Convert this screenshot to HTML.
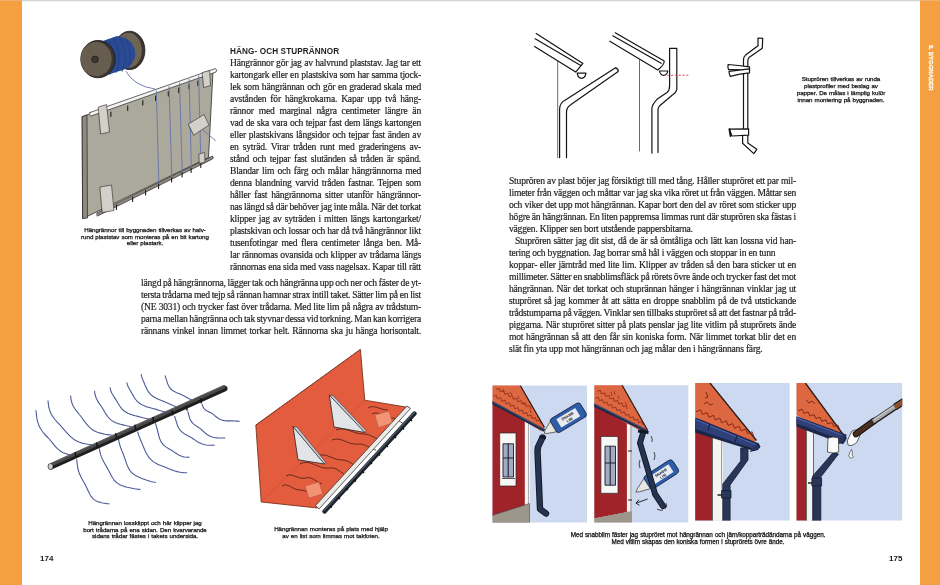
<!DOCTYPE html>
<html><head><meta charset="utf-8">
<style>
html,body{margin:0;padding:0;background:#fff;}
body{width:940px;height:585px;position:relative;overflow:hidden;}
.t,.cap,.h,.pn{will-change:transform;}
.t{position:absolute;font-family:"Liberation Serif",serif;font-size:9.6px;line-height:12px;height:12px;color:#1e1e1e;letter-spacing:-0.22px;-webkit-text-stroke:0.18px #1e1e1e;white-space:nowrap;}
.j{text-align:justify;text-align-last:justify;}
.cap{position:absolute;font-family:"Liberation Sans",sans-serif;font-size:6.2px;line-height:6.6px;color:#111;-webkit-text-stroke:0.25px #111;word-spacing:0.4px;letter-spacing:-0.05px;text-align:center;white-space:nowrap;}
.h{position:absolute;font-family:"Liberation Sans",sans-serif;font-weight:bold;font-size:8.2px;line-height:10px;color:#1e1e1e;letter-spacing:0.1px;white-space:nowrap;}
.pn{position:absolute;font-family:"Liberation Sans",sans-serif;font-weight:bold;font-size:8px;line-height:10px;color:#1a1a1a;white-space:nowrap;}
svg{position:absolute;left:0;top:0;}
</style></head><body>
<div style="position:absolute;left:22px;top:0;width:898px;height:1px;background:#d6d6d6"></div>
<div style="position:absolute;left:22px;top:1px;width:898px;height:1px;background:#f0f0f0"></div>
<div style="position:absolute;left:0;top:0;width:22px;height:585px;background:#f4a040"></div>
<div style="position:absolute;left:920px;top:0;width:20px;height:585px;background:#f4a040"></div>
<div style="position:absolute;left:0;top:0;width:22px;height:1px;background:#eeb070"></div>
<div style="position:absolute;left:920px;top:0;width:20px;height:1px;background:#eeb070"></div>
<div class="h" style="left:230px;top:47px;">HÄNG- OCH STUPRÄNNOR</div>
<svg width="940" height="585" viewBox="0 0 940 585">
<!-- board -->
<g stroke-linejoin="round" stroke-linecap="round">
<polygon points="82.5,116.5 213,71 208.5,157.5 83,218.5" fill="#aba89c" stroke="#2a2a2a" stroke-width="0.8"/>
<polygon points="82.5,116.5 87,115 87.5,218 83,218.5" fill="#8f897e" stroke="#2a2a2a" stroke-width="0.7"/>
<!-- top rod -->
<path d="M90,112.5 L215.5,68.5 Q217.5,70 216,72 L91,116 Q88,115 90,112.5Z" fill="#f4f4f2" stroke="#2a2a2a" stroke-width="0.7"/>
<!-- bottom rod -->
<path d="M97,213 L212.5,156 Q214,158 212.5,159 L97.5,216Z" fill="#8e8a82" stroke="#2a2a2a" stroke-width="0.7"/>
<!-- ticks top -->
<g stroke="#1e1e1e" stroke-width="1.1">
<path d="M110.9,112 v4.5 M127.7,106 v4.5 M142.8,100.5 v4.5 M155.6,96 v4.5 M168.3,91.5 v4.5 M178.7,88 v4.5 M189,84.3 v4.5 M197.9,81 v4.5"/>
<path d="M116.4,205 v4.5 M132.6,197 v4.5 M145.6,190.5 v4.5 M158.6,184 v4.5 M171.6,177.5 v4.5 M182.1,172.5 v4.5 M191.1,168 v4.5 M200.8,163 v4.5"/>
</g>
<!-- vertical threads -->
<g stroke="#6573ad" stroke-width="0.9" fill="none">
<path d="M156.4,91 L158.8,183"/><path d="M169.1,86.5 L171.8,177"/><path d="M179.5,83 L182.2,171.5"/><path d="M189.1,79.5 L191.3,167"/><path d="M198.7,76 L200.8,162"/>
<path d="M126,71.5 Q134,86 154.8,89"/>
<path d="M203,130 L215.4,140.6"/>
</g>
<!-- tapes -->
<polygon points="98.5,107 106.5,104.5 109.5,132 101,134" fill="#d3d0c9" stroke="#2a2a2a" stroke-width="0.6"/>
<polygon points="202.5,72.5 209.5,70.5 210.5,85.5 204,87.5" fill="#d3d0c9" stroke="#2a2a2a" stroke-width="0.6"/>
<polygon points="188.5,124 204,114.5 209,125 194,135" fill="#d3d0c9" stroke="#2a2a2a" stroke-width="0.6"/>
<polygon points="100.2,187 111.5,185 114,210.5 102.5,212.5" fill="#d3d0c9" stroke="#2a2a2a" stroke-width="0.6"/>
<polygon points="199.2,154 204.5,152.5 205,162 199.5,163.5" fill="#d3d0c9" stroke="#2a2a2a" stroke-width="0.6"/>
</g>
<!-- spool -->
<g stroke="#1a1a1a" stroke-linejoin="round">
<ellipse cx="129.6" cy="50.4" rx="15.3" ry="19.2" fill="#3a3530" stroke-width="0.8"/>
<ellipse cx="128.4" cy="50.4" rx="13.4" ry="17.6" fill="#6e6454" stroke-width="0"/>
<path d="M100,42 L117,36 Q134,38 135.5,54 Q134,68 118,71.5 L104,76Z" fill="#2b4a94" stroke-width="0"/>
<g stroke="#20397a" stroke-width="0.6" fill="none"><path d="M108,39 Q118,55 110,75"/><path d="M113,37.5 Q124,55 116,73"/><path d="M119,36.5 Q130,54 122,72"/><path d="M125,37 Q134,54 128,70"/></g>
<ellipse cx="98" cy="59.1" rx="17.2" ry="18.7" fill="#3a3530" stroke-width="0.8"/>
<ellipse cx="96.2" cy="59.1" rx="15.5" ry="17.2" fill="#675d4e" stroke-width="0"/>
<circle cx="95" cy="59.4" r="3.3" fill="#3c3731" stroke-width="0.7"/>
</g>

<!-- rod with threads (bottom-left) -->
<g fill="none" stroke="#4c5a98" stroke-width="1.1" stroke-linecap="round" stroke-linejoin="round">
<path d="M36.0,410.5 L36.3,413.3 L36.6,416.1 L37.0,418.9 L37.6,421.6 L38.5,424.4 L39.6,427.0 L41.1,429.5 L42.7,431.8 L44.5,434.0 L46.4,436.0 L48.3,438.0 L50.1,440.0 L51.8,442.1 L53.4,444.1 L55.1,446.2 L56.9,448.2 L58.9,449.9 L61.0,451.5 L63.2,452.7 L65.6,453.6 L68.1,454.2 L70.6,454.5 L73.0,454.7 L75.5,454.7"/>
<path d="M48.0,400.9 L48.3,403.7 L48.7,406.5 L49.4,409.3 L50.3,412.0 L51.6,414.7 L53.2,417.2 L55.0,419.5 L56.9,421.8 L59.0,423.9 L61.0,426.1 L63.0,428.3 L64.9,430.6 L66.9,432.8 L69.0,435.1 L71.2,437.2 L73.6,439.2 L76.2,440.8 L79.0,442.1 L81.9,443.1 L84.9,443.8 L87.9,444.3 L90.9,444.7 L94.0,444.9 L97.0,445.1"/>
<path d="M70.7,396.1 L70.9,398.6 L71.4,401.1 L72.1,403.6 L73.2,405.9 L74.5,408.2 L76.0,410.3 L77.7,412.4 L79.3,414.5 L81.0,416.5 L82.6,418.7 L84.2,420.9 L85.9,423.1 L87.7,425.3 L89.6,427.3 L91.8,429.2 L94.2,430.7 L96.8,432.0 L99.5,432.9 L102.2,433.6 L105.0,434.2 L107.7,434.6 L110.5,435.0 L113.3,435.4 L116.1,435.6"/>
<path d="M94.6,391.3 L94.8,393.6 L95.4,395.8 L96.2,398.0 L97.2,400.1 L98.4,402.1 L99.7,404.1 L101.0,406.0 L102.3,408.0 L103.6,410.1 L104.8,412.2 L106.2,414.4 L107.6,416.5 L109.3,418.4 L111.2,420.1 L113.4,421.6 L115.7,422.7 L118.1,423.6 L120.6,424.3 L123.0,424.9 L125.5,425.5 L127.9,426.0 L130.3,426.5 L132.8,426.9 L135.3,427.2"/>
<path d="M110.1,387.7 L110.5,389.7 L111.1,391.6 L112.0,393.5 L113.1,395.3 L114.2,397.1 L115.4,398.9 L116.6,400.8 L117.7,402.8 L119.0,404.8 L120.3,406.8 L121.9,408.8 L123.6,410.5 L125.7,412.1 L127.9,413.3 L130.3,414.3 L132.8,415.1 L135.3,415.8 L137.8,416.4 L140.3,417.0 L142.8,417.7 L145.3,418.3 L147.9,418.9 L150.5,419.3 L153.2,419.5"/>
<path d="M126.9,382.9 L127.4,384.7 L128.1,386.5 L129.0,388.3 L130.0,390.0 L131.0,391.8 L132.1,393.7 L133.2,395.6 L134.3,397.6 L135.7,399.5 L137.3,401.4 L139.2,403.0 L141.3,404.5 L143.6,405.6 L146.0,406.6 L148.5,407.3 L151.1,408.0 L153.7,408.7 L156.2,409.4 L158.8,410.2 L161.3,411.0 L164.0,411.8 L166.7,412.4 L169.5,412.7 L172.3,412.8"/>
<path d="M141.2,374.6 L141.7,376.7 L142.4,378.7 L143.2,380.7 L144.1,382.8 L144.9,384.9 L145.9,387.0 L146.9,389.2 L148.2,391.4 L149.7,393.4 L151.5,395.2 L153.6,396.8 L155.9,398.1 L158.3,399.3 L160.8,400.3 L163.3,401.3 L165.7,402.3 L168.2,403.3 L170.6,404.4 L173.1,405.5 L175.7,406.5 L178.3,407.3 L181.1,407.9 L183.9,408.1 L186.7,408.1"/>
<path d="M165.2,375.8 L165.6,377.3 L166.1,378.9 L166.6,380.4 L167.1,382.1 L167.7,383.8 L168.4,385.4 L169.3,387.1 L170.5,388.6 L171.9,390.0 L173.5,391.1 L175.3,392.1 L177.2,392.9 L179.1,393.6 L181.0,394.4 L182.8,395.2 L184.6,396.2 L186.4,397.2 L188.3,398.3 L190.2,399.2 L192.2,400.0 L194.4,400.6 L196.5,400.9 L198.8,401.0 L201.0,400.9"/>
<path d="M76.7,459.5 L77.0,462.5 L77.4,465.6 L77.9,468.5 L78.6,471.3 L79.6,474.1 L80.8,476.6 L82.1,479.1 L83.4,481.4 L84.7,483.7 L85.9,485.9 L87.0,488.2 L88.0,490.4 L89.0,492.6 L90.1,494.7 L91.3,496.7 L92.8,498.4 L94.5,499.9 L96.4,501.1 L98.5,501.9 L100.5,502.5 L102.6,503.0 L104.7,503.3 L106.8,503.6 L109.0,503.8"/>
<path d="M99.4,448.7 L99.8,451.5 L100.5,454.2 L101.4,456.9 L102.5,459.4 L103.7,461.8 L105.1,464.2 L106.4,466.4 L107.7,468.7 L108.9,470.9 L110.1,473.2 L111.2,475.5 L112.5,477.7 L114.0,479.8 L115.7,481.8 L117.7,483.4 L119.9,484.7 L122.2,485.8 L124.6,486.6 L127.1,487.2 L129.6,487.7 L132.1,488.2 L134.6,488.7 L137.3,489.1 L140.0,489.4"/>
<path d="M118.5,439.2 L119.0,442.1 L119.8,445.0 L120.7,447.7 L121.7,450.4 L122.8,453.0 L123.8,455.6 L124.7,458.1 L125.6,460.7 L126.4,463.2 L127.4,465.7 L128.5,468.1 L129.8,470.3 L131.4,472.3 L133.3,474.0 L135.4,475.4 L137.5,476.6 L139.7,477.6 L141.9,478.5 L144.1,479.3 L146.2,480.1 L148.4,480.8 L150.7,481.5 L153.1,482.0 L155.6,482.2"/>
<path d="M137.7,432.0 L138.5,434.7 L139.5,437.4 L140.6,440.0 L141.7,442.6 L142.7,445.1 L143.8,447.7 L144.9,450.3 L146.1,452.8 L147.5,455.3 L149.1,457.6 L151.0,459.7 L153.2,461.6 L155.6,463.1 L158.1,464.4 L160.7,465.6 L163.4,466.6 L166.0,467.6 L168.7,468.7 L171.4,469.7 L174.2,470.7 L177.1,471.6 L180.2,472.3 L183.4,472.6 L186.7,472.7"/>
<path d="M155.6,423.6 L156.2,425.8 L156.9,428.1 L157.5,430.3 L158.0,432.5 L158.6,434.7 L159.1,436.8 L159.8,439.0 L160.7,441.0 L161.8,442.9 L163.2,444.6 L164.8,446.1 L166.6,447.4 L168.4,448.5 L170.1,449.5 L171.9,450.5 L173.5,451.6 L175.1,452.7 L176.8,453.8 L178.5,454.9 L180.4,455.8 L182.4,456.6 L184.5,457.0 L186.7,457.2 L189.0,457.1"/>
<path d="M174.7,416.4 L175.3,418.3 L175.9,420.3 L176.5,422.2 L177.1,424.2 L177.8,426.2 L178.7,428.0 L179.9,429.8 L181.3,431.4 L182.9,432.7 L184.6,433.9 L186.5,435.0 L188.4,435.9 L190.2,436.9 L192.0,438.0 L193.7,439.2 L195.5,440.4 L197.4,441.7 L199.4,442.8 L201.6,443.8 L203.9,444.5 L206.4,445.0 L208.9,445.2 L211.5,445.2 L214.2,445.1"/>
<path d="M187.9,411.7 L188.3,413.5 L188.8,415.3 L189.3,417.2 L189.9,419.0 L190.8,420.7 L191.9,422.2 L193.2,423.6 L194.7,424.9 L196.3,426.0 L197.9,427.0 L199.5,428.1 L201.0,429.2 L202.4,430.5 L203.9,431.8 L205.4,433.2 L207.1,434.5 L208.9,435.7 L210.9,436.6 L213.0,437.3 L215.3,437.7 L217.6,437.9 L220.0,438.0 L222.5,438.0 L225.0,438.0"/>
<path d="M202.2,404.5 L202.6,405.7 L203.0,406.9 L203.7,408.1 L204.6,409.1 L205.6,410.1 L206.8,410.8 L208.2,411.5 L209.5,412.2 L210.9,412.8 L212.2,413.6 L213.5,414.6 L214.8,415.7 L216.2,416.8 L217.7,418.0 L219.4,419.0 L221.2,419.8 L223.1,420.4 L225.2,420.8 L227.4,420.9 L229.7,420.9 L232.0,420.9 L234.4,421.0 L236.8,421.1 L239.3,421.2"/>
</g>
<path d="M51,466.5 L224.5,388.5" stroke="#1e1e1e" stroke-width="6" stroke-linecap="round"/>
<path d="M51,465 L224,387" stroke="#4a4a4a" stroke-width="3.2" stroke-linecap="round"/>
<path d="M50.5,463.5 L223.5,385.5" stroke="#6a6a6a" stroke-width="1" stroke-linecap="round"/>
<ellipse cx="50.5" cy="466.5" rx="2.5" ry="3" fill="#cfcfcf" stroke="#1e1e1e" stroke-width="0.6"/>
<g stroke="#141414" stroke-width="1.4"><path d="M75.0,452.2 l1,5 M96.5,442.6 l1,5 M115.6,433.1 l1,5 M134.8,424.7 l1,5 M152.7,417.0 l1,5 M171.8,410.3 l1,5 M186.2,405.6 l1,5 M200.5,398.4 l1,5"/></g>

<!-- orange gutter (bottom-center) -->
<g stroke-linejoin="round">
<polygon points="255.8,425 360.4,349.4 364.8,400.2 409,407.5 317.5,508 261.2,502" fill="#e45c3e" stroke="#6a2412" stroke-width="0.8"/>
<path d="M261.2,502 L364.8,400.2" stroke="#c04a28" stroke-width="0.5"/>
<path d="M256,425 L360.4,349.4" stroke="#5a2010" stroke-width="1" stroke-dasharray="0.8 1.6"/>
<g fill="none" stroke="#3a1a10" stroke-width="0.75">
<path d="M282,486 C288,482 292,490 300,490 C306,490 310,494 316,494"/>
<path d="M286,476 C292,472 298,480 306,478 C312,476 316,482 322,484"/>
<path d="M300,464 C310,458 318,470 330,468 C336,467 340,472 344,474"/>
<path d="M318,456 C326,452 332,460 342,460 C348,460 352,464 356,466"/>
<path d="M332,440 C342,436 348,446 360,444 C366,444 372,450 376,450"/>
<path d="M336,430 C346,426 352,434 364,434 C370,434 374,438 380,440"/>
<path d="M372,414 C378,410 384,418 392,418 C396,418 400,422 404,424"/>
<path d="M368,408 C374,404 380,410 388,410"/>
</g>
<polygon points="305,486 319,482 322.6,494 309,498" fill="#f29474" stroke="#b5553a" stroke-width="0.5"/>
<polygon points="374.8,415 389,411 392.5,423 378.5,427.5" fill="#f29474" stroke="#b5553a" stroke-width="0.5"/>
<polygon points="293,426.5 324.6,464 298,459.8" fill="#e2e4e8" stroke="#222" stroke-width="0.8"/>
<polygon points="293,426.5 297,427 325.5,462 324.6,464" fill="#c8ccd2" stroke="#222" stroke-width="0.5"/>
<polygon points="329.3,395 365,432.5 334,427" fill="#e2e4e8" stroke="#222" stroke-width="0.8"/>
<polygon points="329.3,395 333,395.5 366,430.5 365,432.5" fill="#c8ccd2" stroke="#222" stroke-width="0.5"/>
<polygon points="315.5,505.5 407,406 410.5,408.5 319,509" fill="#ecebe8" stroke="#222" stroke-width="0.7"/>
<path d="M324.5,511.5 L414.5,413.5" stroke="#1e232c" stroke-width="4.4" stroke-linecap="round"/>
<path d="M324,510.5 L414,412.5" stroke="#4a5260" stroke-width="1.6" stroke-linecap="round"/>
<path d="M330,505.5 l2,2 M338,497 l2,2 M346,488 l2,2 M354,479.5 l2,2 M362,471 l2,2 M370,462 l2,2 M378,453.5 l2,2 M386,445 l2,2 M394,436 l2,2 M402,427.5 l2,2 M410,419 l2,2" stroke="#111" stroke-width="1.3"/>
</g>
</svg>
<svg width="940" height="585" viewBox="0 0 940 585">
<defs>
<clipPath id="c1"><rect x="492.5" y="385.5" width="94.5" height="137"/></clipPath>
<clipPath id="c2"><rect x="594.3" y="385.3" width="94" height="137.2"/></clipPath>
<clipPath id="c3"><rect x="695.2" y="383" width="94.5" height="137.5"/></clipPath>
<clipPath id="c4"><rect x="796.5" y="383" width="105.7" height="137.6"/></clipPath>
</defs>
<!-- top line drawings -->
<g fill="none" stroke="#141414" stroke-width="1.2" stroke-linecap="round" stroke-linejoin="round">
<!-- A -->
<path d="M536.2,33.6 L582.9,63.4 L575.7,72.1 L534.6,46.5"/>
<path d="M535.1,38.8 L580.8,65.5"/>
<path d="M577.2,73.2 H586 Q585,78.3 581.6,78.3 Q578,78.3 577.2,73.2Z"/>
<path d="M557.7,61.4 V157.7" stroke="#444" stroke-width="0.8"/>
<path d="M559.6,157.7 V109 Q559.6,103 565.4,100 L615.5,67.8 Q618.5,68.5 618.2,71.5 L571,104.6 Q566.5,107.5 566.5,112 V157.7"/>
<!-- B -->
<path d="M615.2,32.8 L664.2,60.9 Q664.5,65 657.7,69.9 L609.8,41.2"/>
<path d="M612.8,35.8 L661.2,63.3"/>
<path d="M659.5,71 H667.8 Q667,75.3 663.6,75.3 Q660.3,75.3 659.5,71Z"/>
<path d="M639.5,60.3 V151" stroke="#444" stroke-width="0.8"/>
<path d="M651.9,153.1 V108 Q652.6,104 657.3,99.1 L667,92.5 Q669.6,90.3 669.6,86 V48.3 H676.8 V89.6 Q676,93 672.4,95 L659.4,106 Q658,108 658,110 V152.5"/>
<!-- C -->
<path d="M758,38 V45.7 L745.6,55.1 Q743.5,57 743.5,59.4 V128.4 M742.6,135.8 V143.3 L753.8,153.6 L756.8,149.3 L747.8,142.9 V135.6 M747.8,128.8 V61 Q747.8,59 749,57.6 L762.3,48.2 L762.7,38.4 L758,38"/>
<path d="M728.1,64.5 Q738,65.2 749.5,66.8 V70.3 Q739,69.5 728.5,69.6 Q727.5,67 728.1,64.5Z" fill="#fff"/>
<path d="M729,71.3 Q739,70 749.5,68.8 V72.8 Q740,73.5 730.3,76.4 Q729,74 729,71.3Z" fill="#fff"/>
<path d="M729.4,129.2 L748.6,128.8 V135.2 L732,136 Z" fill="#fff"/>
<path d="M729.4,129.2 L730.5,136" stroke-width="1.8"/>
</g>
<path d="M667.2,75.3 H688.5" stroke="#d0405a" stroke-width="0.9" stroke-dasharray="2.2 1.6"/>

<!-- panel 1 -->
<g clip-path="url(#c1)" stroke-linejoin="round">
<rect x="492" y="385" width="96" height="138" fill="#cdd9f0"/>
<polygon points="490,401 526,421 526,515 490,516" fill="#a02329"/>
<polygon points="524.8,420 530,423 530,504 524.8,505" fill="#f4f4f0"/>
<path d="M528.5,423 V504" stroke="#777" stroke-width="0.6"/>
<polygon points="490,516 529.5,503.5 529.5,523 490,523" fill="#9d968a" stroke="#333" stroke-width="0.5"/>
<polygon points="490,385 520,385 544.5,427.5 541,431 490,401" fill="#dd6740"/>
<path d="M520,385 L544.5,427.5" stroke="#2a1a12" stroke-width="1.2"/>
<g stroke="#8a2a14" stroke-width="0.8" fill="none"><path d="M493.0,396.3 496.4,395.3 497.3,398.7 500.7,397.8 501.7,401.2 505.1,400.3 506.0,403.7 509.4,402.8 510.4,406.2 513.8,405.3 514.7,408.7 518.1,407.7 519.0,411.1 522.5,410.2 523.4,413.6 526.8,412.7 527.7,416.1 531.1,415.2 532.1,418.6 535.5,417.7 536.4,421.1 539.8,420.1 540.7,423.6"/><path d="M496.0,389.3 499.4,388.3 500.3,391.7 503.7,390.8 504.7,394.2 508.1,393.3 509.0,396.7 512.4,395.8 513.4,399.2 516.8,398.3 517.7,401.7 521.1,400.7 522.0,404.1 525.5,403.2 526.4,406.6 529.8,405.7 530.7,409.1"/><path d="M503,389 l1,3 M510,392 l2,3 M518,396 l1,3 M523,402 l2,3 M530,410 l1,3"/></g>
<path d="M490,401.5 L544.5,430.5" stroke="#1f2a44" stroke-width="3"/>
<path d="M490,400.5 L544,429.5" stroke="#3b4f86" stroke-width="1"/>
<rect x="499.7" y="433" width="16.3" height="53" fill="#f7f7f5" stroke="#2a2a2a" stroke-width="0.7"/>
<rect x="503" y="443.8" width="10.5" height="33.2" fill="#a2aac4" stroke="#1a1a2a" stroke-width="0.9"/>
<path d="M508.2,443.8 V477 M503,458 H513.5" stroke="#1f2330" stroke-width="1.1"/>
<path d="M502,478.5 H515" stroke="#555" stroke-width="1"/>
<path d="M542.5,437.5 L538,447 L537.5,451 L540,509 L546,513.5" fill="none" stroke="#121826" stroke-width="6.4" stroke-linejoin="round" stroke-linecap="round"/>
<path d="M542.5,437.5 L538,447 L537.5,451 L540,509 L546,513.5" fill="none" stroke="#263350" stroke-width="4.6" stroke-linejoin="round" stroke-linecap="round"/>
<path d="M539.5,436.5 L546,438" stroke="#121826" stroke-width="2.5"/>
<g transform="translate(567,418.5) rotate(-31)">
<rect x="-16" y="-8" width="35" height="16" rx="3.5" fill="#2f5ea8" stroke="#1a2a50" stroke-width="0.9"/>
<rect x="-9.5" y="-4.8" width="22" height="9.6" fill="#e8ecf2"/>
<text x="1.5" y="-0.4" font-family="Liberation Sans" font-weight="bold" font-size="3.8" text-anchor="middle" fill="#223">SNABB</text>
<text x="1.5" y="3.8" font-family="Liberation Sans" font-weight="bold" font-size="3.8" text-anchor="middle" fill="#223">LIM</text>
<polygon points="-16,-6 -25,-1.2 -27,1 -25,2.5 -16,6" fill="#e6e6e2" stroke="#2a2a2a" stroke-width="0.6"/>
</g>
</g>

<!-- panel 2 -->
<g clip-path="url(#c2)" stroke-linejoin="round">
<rect x="594" y="385" width="95" height="138" fill="#cdd9f0"/>
<polygon points="592,403 628,424 628,512 592,519" fill="#a02329"/>
<polygon points="626.9,423 632,426 632,511 626.9,512" fill="#f4f4f0"/>
<path d="M631,426 V511" stroke="#555" stroke-width="0.7"/>
<path d="M628,451 h4 M628,500 h4" stroke="#222" stroke-width="1"/>
<polygon points="592,519 632,511 632,523 592,523" fill="#9d968a"/>
<polygon points="592,385 622,385 647.5,430 644,433 592,404" fill="#dd6740"/>
<path d="M622,385 L647.5,430" stroke="#2a1a12" stroke-width="1.2"/>
<g stroke="#8a2a14" stroke-width="0.8" fill="none"><path d="M595.0,398.3 598.4,397.3 599.3,400.7 602.7,399.7 603.7,403.1 607.1,402.2 608.1,405.6 611.5,404.6 612.4,408.0 615.8,407.1 616.8,410.5 620.2,409.5 621.2,412.9 624.6,412.0 625.5,415.4 628.9,414.4 629.9,417.8 633.3,416.8 634.2,420.2 637.6,419.3 638.6,422.7 642.0,421.7 643.0,425.1"/><path d="M597.0,391.3 600.4,390.4 601.3,393.8 604.7,392.9 605.6,396.3 609.1,395.5 609.9,398.9 613.4,398.0 614.3,401.4 617.7,400.5 618.6,404.0 622.0,403.1 622.9,406.5 626.3,405.6 627.2,409.0"/><path d="M611,392 l1,4 M614,391 l1,4 M618,396 l1,3 M625,402 l2,3"/></g>
<path d="M592,404 L647.5,431.5" stroke="#1f2a44" stroke-width="3"/>
<path d="M592,403 L647,430.5" stroke="#3b4f86" stroke-width="1"/>
<rect x="600.9" y="436.5" width="17.1" height="56.8" fill="#f7f7f5" stroke="#2a2a2a" stroke-width="0.7"/>
<rect x="605" y="446.2" width="10.5" height="39" fill="#a2aac4" stroke="#1a1a2a" stroke-width="0.9"/>
<path d="M610.2,446.2 V485.2 M605,463 H615.5" stroke="#1f2330" stroke-width="1.1"/>
<g transform="translate(660.5,475) rotate(-33)">
<rect x="-16" y="-7.8" width="34" height="15.6" rx="3.5" fill="#2f5ea8" stroke="#1a2a50" stroke-width="0.9"/>
<rect x="-9.5" y="-4.6" width="22" height="9.2" fill="#e8ecf2"/>
<text x="1.5" y="-0.4" font-family="Liberation Sans" font-weight="bold" font-size="3.8" text-anchor="middle" fill="#223">SNABB</text>
<text x="1.5" y="3.8" font-family="Liberation Sans" font-weight="bold" font-size="3.8" text-anchor="middle" fill="#223">LIM</text>
<polygon points="-16,-6 -27,-1 -30,1 -27,2.5 -16,6" fill="#e6e6e2" stroke="#2a2a2a" stroke-width="0.6"/>
</g>
<path d="M643,433 L640,443 L651,480 L655,494 L663,506" fill="none" stroke="#121826" stroke-width="6" stroke-linejoin="round" stroke-linecap="round"/>
<path d="M643,433 L640,443 L651,480 L655,494 L663,506" fill="none" stroke="#263350" stroke-width="4.2" stroke-linejoin="round" stroke-linecap="round"/>
<path d="M638,431 L648.5,432.5" stroke="#121826" stroke-width="3"/>
<path d="M647.6,499 L636,503.2 M636,503.2 l3,-3.5 M636,503.2 l3.5,2" stroke="#1a1a1a" stroke-width="0.9" fill="none"/>
<g fill="none" stroke="#222" stroke-width="0.8">

<path d="M651,436 q2,3 1,6 M654,452 q2,4 0,8 M640,460 q-2,4 0,8 M666,503 q2,3 -1,6 M657,509 q3,2 6,1"/>
</g>
</g>

<!-- panel 3 -->
<g clip-path="url(#c3)" stroke-linejoin="round">
<rect x="695" y="383" width="95" height="138" fill="#cdd9f0"/>
<rect x="695" y="420" width="17.5" height="101" fill="#a02329"/>
<polygon points="712.3,425 723,430 723,521 712.3,521" fill="#f4f4f2"/>
<path d="M712.5,425 V521" stroke="#333" stroke-width="0.7"/>
<path d="M722,430 Q721,470 722,490" stroke="#555" stroke-width="0.6" fill="none"/>
<polygon points="693,383 710,383 756,440.5 752,444 693,416" fill="#dd6740"/>
<path d="M710,383 L756.5,440.5" stroke="#2a1a12" stroke-width="1.3"/>
<g stroke="#7a2210" stroke-width="0.9" fill="none"><path d="M696.0,411.7 700.6,409.9 702.4,414.4 707.0,412.6 708.9,417.2 713.5,415.3 715.3,419.9 719.9,418.1 721.7,422.7 726.3,420.8 728.2,425.4 732.8,423.6 734.6,428.2 739.2,426.3 741.1,430.9 745.6,429.1 747.5,433.7 752.1,431.8 753.9,436.4"/><path d="M706,392 l2,5 l-3,1 M704,404 l3,-2 l3,3 l3,-1"/></g>
<polygon points="693,416.5 759,443.5 760,447.5 754,451 693,432" fill="#1c2648"/>
<polygon points="693,418.5 758,445 753,448.5 693,428" fill="#2f3f78"/>
<path d="M693,418.5 L757,445" stroke="#4a62a8" stroke-width="1.2"/>
<path d="M757,443 L760,446.5 L758,449.5 L750,451.5" fill="#27345e" stroke="#111a30" stroke-width="0.8"/>
<path d="M710,424 l-2,6 M737,436 l-2,6" stroke="#111a30" stroke-width="1"/>
<path d="M740.7,447.9 H748 V460 L730.1,485 V521 H722.8 V484 L740.7,461 Z" fill="#283657" stroke="#141c34" stroke-width="0.8"/>
<rect x="721.5" y="490.5" width="9.5" height="7.5" fill="#283657" stroke="#141c34" stroke-width="0.8"/>
<path d="M717.5,495 h4" stroke="#222" stroke-width="1.5"/>
</g>

<!-- panel 4 -->
<g clip-path="url(#c4)" stroke-linejoin="round">
<rect x="796" y="383" width="107" height="138" fill="#cdd9f0"/>
<rect x="796" y="420" width="10.5" height="101" fill="#a02329"/>
<polygon points="806.2,425 813.5,428 813.5,521 806.2,521" fill="#f4f4f2"/>
<path d="M806.5,425 V521 M813.5,428 V480" stroke="#333" stroke-width="0.7" fill="none"/>
<polygon points="794,383 805.4,383 843.5,435 840,439 794,414" fill="#dd6740"/>
<path d="M805.4,383 L843.5,435" stroke="#2a1a12" stroke-width="1.3"/>
<g stroke="#7a2210" stroke-width="0.9" fill="none"><path d="M798.0,410.7 802.2,409.3 804.0,413.4 808.1,411.9 809.9,416.0 814.1,414.6 815.8,418.6 820.0,417.2 821.8,421.3 826.0,419.9 827.7,423.9 831.9,422.5 833.7,426.6 837.8,425.1 839.6,429.2"/><path d="M806,400 l3,3 l3,-2 l3,3"/></g>
<path d="M794,420.5 L845,439.5" stroke="#1c2648" stroke-width="10"/>
<path d="M794,419.5 L845,438.5" stroke="#2f3f78" stroke-width="5.5"/>
<path d="M794,417 L845,436" stroke="#4a62a8" stroke-width="1.3"/>
<path d="M843,434.5 L846.5,438 L844.3,442.2 L836,444" fill="#27345e" stroke="#111a30" stroke-width="0.8"/>
<path d="M833,452.7 L838.5,454 L820.8,477 V521 H812.7 V476 Z" fill="#283657" stroke="#141c34" stroke-width="0.8"/>
<rect x="811.9" y="478" width="9.7" height="8" fill="#283657" stroke="#141c34" stroke-width="0.8"/>
<path d="M808,483 h4" stroke="#222" stroke-width="1.5"/>
<path d="M828,438 Q833,436 838.5,438 L838.7,452 Q833,454 827.5,452 Z" fill="#fbfbfb" stroke="#222" stroke-width="0.7"/>
<path d="M852,431 Q858,428 861,433 L857,442 Q852,447 848,445 Q846,441 849,437 Z" fill="#fbfbfb" stroke="#222" stroke-width="0.7"/>
<path d="M852,455 Q853,451 851.5,449.5 Q849,453 848.8,456 Q850,459 852,458 Q855,457 852,455Z" fill="#fbfbfb" stroke="#222" stroke-width="0.6"/>
<path d="M856,434 L874,421" stroke="#1a1410" stroke-width="6.5" stroke-linecap="round"/>
<path d="M856,434 L874,421" stroke="#4a3020" stroke-width="4.5" stroke-linecap="round"/>
<path d="M873,422 L896,406.5" stroke="#1a1a1a" stroke-width="6" stroke-linecap="butt"/>
<path d="M873,421.5 L896,406" stroke="#a6a6a6" stroke-width="4"/>
<path d="M874,420 L895,405.5" stroke="#d0d0d0" stroke-width="1"/>
<path d="M895,407 L906,400" stroke="#1a1a1a" stroke-width="7"/>
<path d="M895,407 L906,400" stroke="#8a5030" stroke-width="5"/>
</g>
</svg>
<div class="t" style="top:57.0px;left:230px;word-spacing:0.268px">Hängrännor gör jag av halvrund plaststav. Jag tar ett</div>
<div class="t" style="top:69.0px;left:230px;word-spacing:0.230px">kartongark eller en plastskiva som har samma tjock-</div>
<div class="t" style="top:81.0px;left:230px;word-spacing:0.553px">lek som hängrännan och gör en graderad skala med</div>
<div class="t" style="top:93.0px;left:230px;word-spacing:1.810px">avstånden för hängkrokarna. Kapar upp två häng-</div>
<div class="t" style="top:105.0px;left:230px;word-spacing:2.737px">rännor med marginal några centimeter längre än</div>
<div class="t" style="top:117.0px;left:230px;word-spacing:0.417px">vad de ska vara och tejpar fast dem längs kartongen</div>
<div class="t" style="top:129.0px;left:230px;word-spacing:0.672px">eller plastskivans långsidor och tejpar fast änden av</div>
<div class="t" style="top:141.0px;left:230px;word-spacing:1.837px">en syträd. Virar tråden runt med graderingens av-</div>
<div class="t" style="top:153.0px;left:230px;word-spacing:1.533px">stånd och tejpar fast slutänden så tråden är spänd.</div>
<div class="t" style="top:165.0px;left:230px;word-spacing:1.045px">Blandar lim och färg och målar hängrännorna med</div>
<div class="t" style="top:177.0px;left:230px;word-spacing:1.312px">denna blandning varvid tråden fastnar. Tejpen som</div>
<div class="t" style="top:189.0px;left:230px;word-spacing:1.641px">håller fast hängrännorna sitter utanför hängrännor-</div>
<div class="t" style="top:201.0px;left:230px;word-spacing:-0.198px">nas längd så där behöver jag inte måla. När det torkat</div>
<div class="t" style="top:213.0px;left:230px;word-spacing:0.944px">klipper jag av syträden i mitten längs kartongarket/</div>
<div class="t" style="top:225.0px;left:230px;word-spacing:0.088px">plastskivan och lossar och har då två hängrännor likt</div>
<div class="t" style="top:237.0px;left:230px;word-spacing:1.531px">tusenfotingar med flera centimeter långa ben. Må-</div>
<div class="t" style="top:249.0px;left:230px;word-spacing:0.263px">lar rännornas ovansida och klipper av trådarna längs</div>
<div class="t" style="top:261.0px;left:230px;word-spacing:0.123px">rännornas ena sida med vass nagelsax. Kapar till rätt</div>
<div class="t" style="top:276.6px;left:141px;word-spacing:-0.355px">längd på hängrännorna, lägger tak och hängränna upp och ner och fäster de yt-</div>
<div class="t" style="top:288.6px;left:141px;word-spacing:-0.294px">tersta trådarna med tejp så rännan hamnar strax intill taket. Sätter lim på en list</div>
<div class="t" style="top:300.6px;left:141px;word-spacing:0.201px">(NE 3031) och trycker fast över trådarna. Med lite lim på några av trådstum-</div>
<div class="t" style="top:312.6px;left:141px;word-spacing:-0.490px">parna mellan hängränna och tak styvnar dessa vid torkning. Man kan korrigera</div>
<div class="t" style="top:324.6px;left:141px;word-spacing:0.662px">rännans vinkel innan limmet torkar helt. Rännorna ska ju hänga horisontalt.</div>
<div class="t" style="top:175.0px;left:509px;word-spacing:0.052px">Stuprören av plast böjer jag försiktigt till med tång. Håller stupröret ett par mil-</div>
<div class="t" style="top:187.0px;left:509px;word-spacing:-0.030px">limeter från väggen och måttar var jag ska vika röret ut från väggen. Måttar sen</div>
<div class="t" style="top:199.0px;left:509px;word-spacing:0.073px">och viker det upp mot hängrännan. Kapar bort den del av röret som sticker upp</div>
<div class="t" style="top:211.0px;left:509px;word-spacing:-0.118px">högre än hängrännan. En liten pappremsa limmas runt där stuprören ska fästas i</div>
<div class="t" style="top:223.0px;left:509px;word-spacing:0.000px">väggen. Klipper sen bort utstående pappersbitarna.</div>
<div class="t" style="top:235.0px;left:515px;word-spacing:0.440px">Stuprören sätter jag dit sist, då de är så ömtåliga och lätt kan lossna vid han-</div>
<div class="t" style="top:247.0px;left:509px;word-spacing:0.000px">tering och byggnation. Jag borrar små hål i väggen och stoppar in en tunn</div>
<div class="t" style="top:259.0px;left:509px;word-spacing:0.555px">koppar- eller järntråd med lite lim. Klipper av tråden så den bara sticker ut en</div>
<div class="t" style="top:271.0px;left:509px;word-spacing:-0.241px">millimeter. Sätter en snabblimsfläck på rörets övre ände och trycker fast det mot</div>
<div class="t" style="top:283.0px;left:509px;word-spacing:0.534px">hängrännan. När det torkat och stuprännan hänger i hängrännan vinklar jag ut</div>
<div class="t" style="top:295.0px;left:509px;word-spacing:0.653px">stupröret så jag kommer åt att sätta en droppe snabblim på de två utstickande</div>
<div class="t" style="top:307.0px;left:509px;word-spacing:-0.319px">trådstumparna på väggen. Vinklar sen tillbaks stupröret så att det fastnar på tråd-</div>
<div class="t" style="top:319.0px;left:509px;word-spacing:0.487px">piggarna. När stupröret sitter på plats penslar jag lite vitlim på stuprörets ände</div>
<div class="t" style="top:331.0px;left:509px;word-spacing:0.605px">mot hängrännan så att den får sin koniska form. När limmet torkat blir det en</div>
<div class="t" style="top:343.0px;left:509px;word-spacing:0.000px">slät fin yta upp mot hängrännan och jag målar den i hängrännans färg.</div><div class="cap" style="left:145px;top:227px;transform:translateX(-50%)">Hängrännor till byggnaden tillverkas av halv-<br>rund plaststav som monteras på en bit kartong<br>eller plastark.</div>
<div class="cap" style="left:145px;top:519.5px;transform:translateX(-50%)">Hängrännan lossklippt och här klipper jag<br>bort trådarna på ena sidan. Den kvarvarande<br>sidans trådar fästes i takets undersida.</div>
<div class="cap" style="left:330.5px;top:525.5px;transform:translateX(-50%)">Hängrännan monteras på plats med hjälp<br>av en list som limmas mot takfoten.</div>
<div class="cap" style="left:840.5px;top:76.3px;line-height:6.85px;transform:translateX(-50%)">Stuprören tillverkas av runda<br>plastprofiler med beslag av<br>papper. De målas i lämplig kulör<br>innan montering på byggnaden.</div>
<div class="cap" style="left:697.6px;top:532px;line-height:6.9px;font-size:6.35px;transform:translateX(-50%)">Med snabblim fäster jag stupröret mot hängrännan och järn/kopparträdändarna på väggen.<br>Med vitlim skapas den koniska formen i stuprörets övre ände.</div>
<div class="pn" style="left:40px;top:553.5px;">174</div>
<div class="pn" style="left:888.5px;top:553.5px;">175</div>
<div style="position:absolute;left:925.5px;top:44.5px;width:10px;height:50px;"><div style="position:absolute;left:0;top:0;transform-origin:0 0;transform:translate(9px,0) rotate(90deg);font-family:'Liberation Sans',sans-serif;font-weight:bold;font-size:6px;line-height:8px;color:#fff6e8;-webkit-text-stroke:0.3px #fff6e8;white-space:nowrap;">8. BYGGNADER</div></div>
</body></html>
